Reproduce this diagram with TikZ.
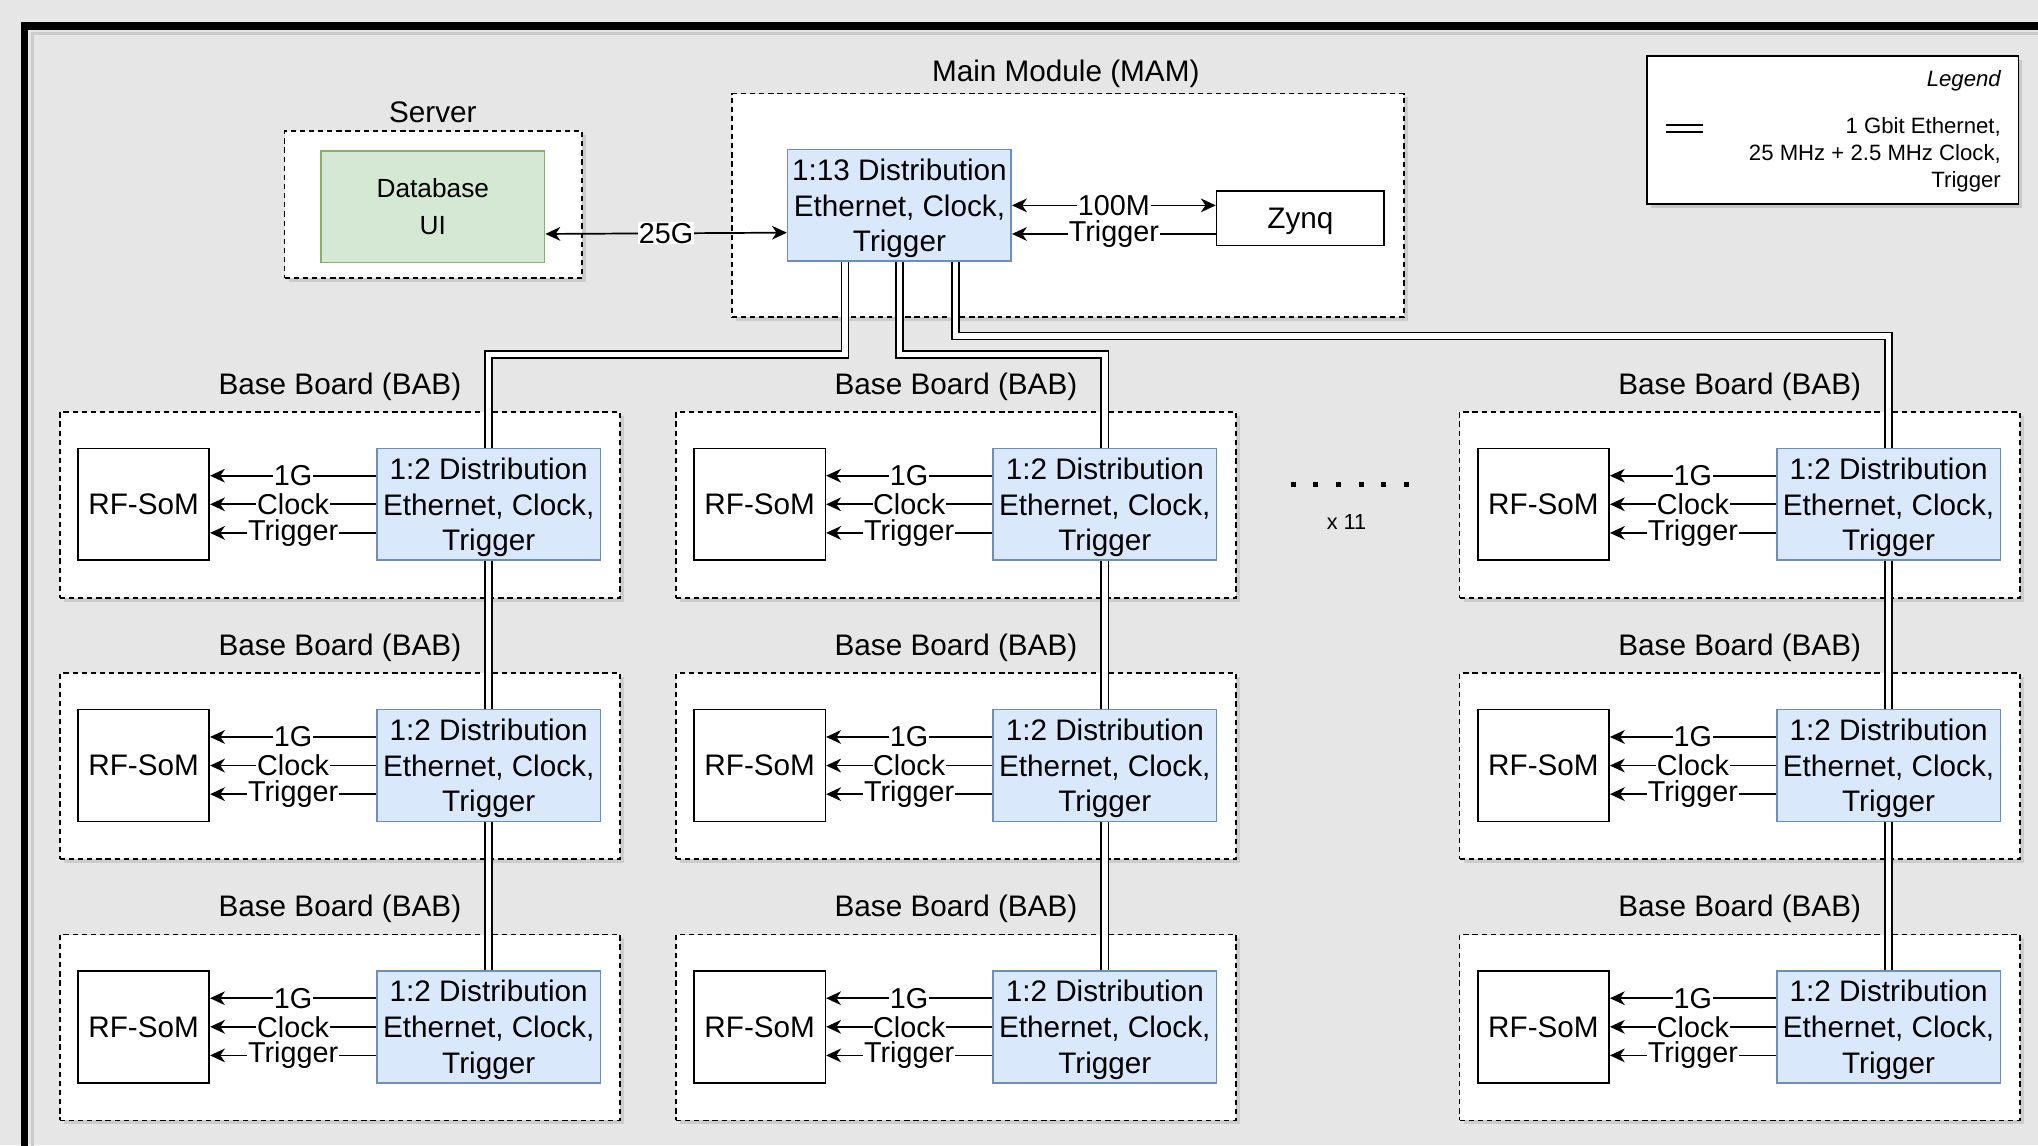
\documentclass[tikz,border=0pt]{standalone}
\usepackage{fontspec}
\setmainfont{Liberation Sans}
\usepackage{tikz}
\usetikzlibrary{positioning, arrows.meta, calc, shadows}

\definecolor{bggray}{RGB}{230,230,230}
\definecolor{distfill}{HTML}{DAE8FC}
\definecolor{distline}{HTML}{6C8EBF}
\definecolor{dbfill}{HTML}{D5E8D4}
\definecolor{dbline}{HTML}{82B366}

\tikzset{
  txt/.style={font=\fontsize{13pt}{15.6pt}\selectfont},
  container/.style={draw, fill=white, line width=0.7pt, dash pattern=on 2.3pt off 1.7pt,
    drop shadow={shadow xshift=0.6mm, shadow yshift=-0.6mm, opacity=0.25}},
  distbox/.style={draw=distline, fill=distfill, line width=0.7pt, align=center, inner sep=0.5mm,
    minimum width=34.4mm, minimum height=17.2mm, txt, text depth=0pt},
  plainbox/.style={draw, fill=white, line width=0.7pt, inner sep=0.5mm, txt},
  boxtitle/.style={txt, inner sep=1pt},
  lbl/.style={fill=white, inner sep=0.3pt, font=\fontsize{12.6pt}{14pt}\selectfont},
  bus/.style={double=white, double distance=2.4pt, line width=0.7pt},
}

\begin{document}
\begin{tikzpicture}[x=0.2mm, y=-0.2mm, >={Stealth[length=6.5pt, width=6pt, inset=2pt]}, line width=0.75pt]
      % --- Background and frame ---
      \useasboundingbox (0,0) rectangle (1568,881);
      \clip (0,0) rectangle (1568,881);
      \fill[bggray] (0,0) rectangle (1568,881);
      \draw[black!20, line width=0.5mm] (25,900) -- (25,26) -- (1600,26);
      \draw[line width=1.1mm] (19,900) -- (19,20) -- (1600,20);

      % --- Server ---
      \node[container, minimum width=45.8mm, minimum height=22.6mm] (server) at (333.5,157.5) {};
      \node[boxtitle] (servertitle) at (333,86) {Server};
      \node[draw=dbline, fill=dbfill, line width=0.7pt, minimum width=34.4mm, minimum height=17.2mm, align=center,
        font=\fontsize{11.5pt}{15.9pt}\selectfont] (db) at (333,159) {Database\\UI};

      % --- Main Module ---
      \node[container, minimum width=103.4mm, minimum height=34.4mm] (mam) at (821.5,158) {};
      \node[boxtitle] (mamtitle) at (820,56.5) {Main Module (MAM)};
      \node[distbox] (mdist) at (692,158) {1:13 Distribution\\Ethernet, Clock,\\Trigger};
      \node[plainbox, text depth=0pt, minimum width=25.8mm, minimum height=8.4mm] (zynq) at (1000.5,168) {Zynq};

      \draw[<->] ([yshift=-4.2mm]db.east) -- node[lbl]{25G} ([yshift=-4.2mm]mdist.west);
      \draw[<->] (mdist.east) -- node[lbl]{100M} (mdist.east -| zynq.west);
      \coordinate (trg) at ([yshift=-4.4mm]mdist.east);
      \draw[->] (trg -| zynq.west) -- node[lbl]{Trigger} (trg);

      % --- Legend ---
      \node[draw, fill=white, line width=0.7pt, minimum width=57.2mm, minimum height=22.8mm,
        drop shadow={shadow xshift=0.6mm, shadow yshift=-0.6mm, opacity=0.3}] (legend) at (1410,100) {};
      \node[anchor=east, inner sep=0pt, font=\fontsize{9.7pt}{11.5pt}\selectfont\itshape] (legendtitle) at (1540,62) {Legend};
      \node[anchor=east, align=right, inner sep=0pt, font=\fontsize{9.7pt}{11.9pt}\selectfont] (legendtext) at (1540,119)
        {1 Gbit Ethernet,\\25 MHz + 2.5 MHz Clock,\\Trigger};
      \coordinate (lgA) at (1282,99);
      \coordinate (lgB) at (1310,99);
      \draw[bus] (lgA) -- (lgB);

      % --- Base Boards ---
      \foreach \c/\x in {1/46, 2/520, 3/1123}{
        \foreach \r/\y in {1/317, 2/518, 3/719}{
          \begin{scope}[shift={(\x,\y)}]
            \node[container, minimum width=86.2mm, minimum height=28.6mm] (bab\c\r) at (215.5,71.5) {};
            \node[boxtitle] (babtitle\c\r) at (215.5,-19.5) {Base Board (BAB)};
            \node[plainbox, minimum width=20.2mm, minimum height=17.2mm] (som\c\r) at (64.5,71) {RF-SoM};
            \node[distbox] (dist\c\r) at (330,71) {1:2 Distribution\\Ethernet, Clock,\\Trigger};
            \draw[->] ([yshift=4.4mm]dist\c\r.west) -- node[lbl]{1G} ([yshift=4.4mm]som\c\r.east);
            \draw[->] (dist\c\r.west) -- node[lbl]{Clock} (som\c\r.east);
            \draw[->] ([yshift=-4.4mm]dist\c\r.west) -- node[lbl]{Trigger} ([yshift=-4.4mm]som\c\r.east);
          \end{scope}
        }
      }

      % --- Bus lines ---
      \draw[bus] ([xshift=-8.4mm]mdist.south) -- ++(0,71) -| (dist11.north);
      \draw[bus] (mdist.south) -- ++(0,71) -| (dist21.north);
      \draw[bus] ([xshift=8.6mm]mdist.south) -- ++(0,57) -| (dist31.north);
      \foreach \c in {1,2,3}{
        \draw[bus] (dist\c1.south) -- (dist\c2.north);
        \draw[bus] (dist\c2.south) -- (dist\c3.north);
      }

      % --- More boards ---
      \draw[line width=0.8mm, dash pattern=on 0.8mm off 2.68mm] (993,373) -- (1090,373);
      \node[font=\fontsize{9.5pt}{11pt}\selectfont] (copies) at (1036,402) {x 11};
\end{tikzpicture}
\end{document}
